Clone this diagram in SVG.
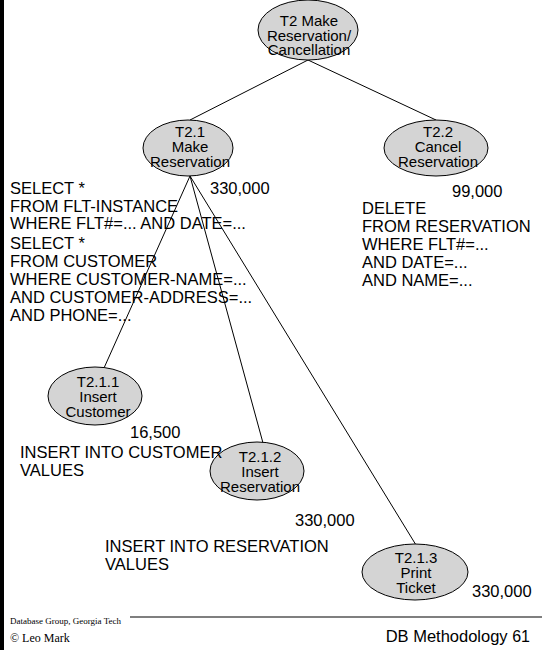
<svg xmlns="http://www.w3.org/2000/svg" width="542" height="650" viewBox="0 0 542 650">
  <style>
    .node ellipse { fill: #d4d4d4; stroke: #000; stroke-width: 1; }
    .node text { font-family: "Liberation Sans", Arial, sans-serif; font-size: 15px; fill: #000; text-anchor: middle; }
    .lbl { font-family: "Liberation Sans", Arial, sans-serif; font-size: 16.5px; fill: #000; }
    .edge { stroke: #000; stroke-width: 1; fill: none; }
    .foot { font-family: "Liberation Serif", "Times New Roman", serif; fill: #000; }
  </style>
  <rect width="542" height="650" fill="#fff"/>
  <!-- slide left border -->
  <rect x="0" y="0" width="4" height="650" fill="#000"/>

  <g id="connectors">
    <line class="edge" x1="308" y1="60" x2="190" y2="120"/>
    <line class="edge" x1="308" y1="60" x2="436" y2="120"/>
    <line class="edge" x1="190" y1="176" x2="104" y2="368"/>
    <line class="edge" x1="190" y1="176" x2="263" y2="443"/>
    <line class="edge" x1="190" y1="176" x2="416" y2="545"/>
  </g>

  <g id="t2" class="node">
    <ellipse cx="308" cy="30" rx="50" ry="30"/>
    <text x="309" y="26">T2 Make</text>
    <text x="309" y="40.5">Reservation/</text>
    <text x="309" y="55">Cancellation</text>
  </g>

  <g id="t2-1" class="node">
    <ellipse cx="188" cy="148" rx="45" ry="28"/>
    <text x="190" y="137">T2.1</text>
    <text x="190" y="152">Make</text>
    <text x="190" y="167">Reservation</text>
  </g>

  <g id="t2-2" class="node">
    <ellipse cx="436" cy="148" rx="52" ry="28"/>
    <text x="438" y="137">T2.2</text>
    <text x="438" y="152">Cancel</text>
    <text x="438" y="167">Reservation</text>
  </g>

  <g id="t2-1-1" class="node">
    <ellipse cx="95" cy="396" rx="47" ry="29"/>
    <text x="98" y="387">T2.1.1</text>
    <text x="98" y="402">Insert</text>
    <text x="98" y="417">Customer</text>
  </g>

  <g id="t2-1-2" class="node">
    <ellipse cx="257" cy="471" rx="47" ry="29"/>
    <text x="260" y="462">T2.1.2</text>
    <text x="260" y="477">Insert</text>
    <text x="260" y="492">Reservation</text>
  </g>

  <g id="t2-1-3" class="node">
    <ellipse cx="415" cy="572" rx="53" ry="28"/>
    <text x="416" y="563">T2.1.3</text>
    <text x="416" y="578">Print</text>
    <text x="416" y="593">Ticket</text>
  </g>

  <!-- frequencies -->
  <text class="lbl" x="210" y="194" font-size="16">330,000</text>
  <text class="lbl" x="452" y="197" font-size="16">99,000</text>
  <text class="lbl" x="130" y="438" font-size="16">16,500</text>
  <text class="lbl" x="295" y="526" font-size="16">330,000</text>
  <text class="lbl" x="472" y="597" font-size="16">330,000</text>

  <!-- queries -->
  <text class="lbl" x="10" y="194">SELECT *</text>
  <text class="lbl" x="10" y="211.5">FROM FLT-INSTANCE</text>
  <text class="lbl" x="10" y="229">WHERE FLT#=... AND DATE=...</text>
  <text class="lbl" x="10" y="249">SELECT *</text>
  <text class="lbl" x="10" y="267">FROM CUSTOMER</text>
  <text class="lbl" x="10" y="285">WHERE CUSTOMER-NAME=...</text>
  <text class="lbl" x="10" y="303">AND CUSTOMER-ADDRESS=...</text>
  <text class="lbl" x="10" y="321">AND PHONE=...</text>

  <text class="lbl" x="362" y="214">DELETE</text>
  <text class="lbl" x="362" y="232">FROM RESERVATION</text>
  <text class="lbl" x="362" y="250">WHERE FLT#=...</text>
  <text class="lbl" x="362" y="268">AND DATE=...</text>
  <text class="lbl" x="362" y="286">AND NAME=...</text>

  <text class="lbl" x="20" y="458" font-size="14.6">INSERT INTO CUSTOMER</text>
  <text class="lbl" x="20" y="476" font-size="14.6">VALUES</text>

  <text class="lbl" x="105" y="552">INSERT INTO RESERVATION</text>
  <text class="lbl" x="105" y="570">VALUES</text>

  <!-- footer -->
  <line x1="130" y1="617" x2="542" y2="617" stroke="#555" stroke-width="1.5"/>
  <text class="foot" x="10" y="624" font-size="9">Database Group, Georgia Tech</text>
  <text class="foot" x="10" y="642" font-size="12">© Leo Mark</text>
  <text class="lbl" x="530" y="642" text-anchor="end" font-size="12.5">DB Methodology <tspan font-size="16">61</tspan></text>
</svg>
